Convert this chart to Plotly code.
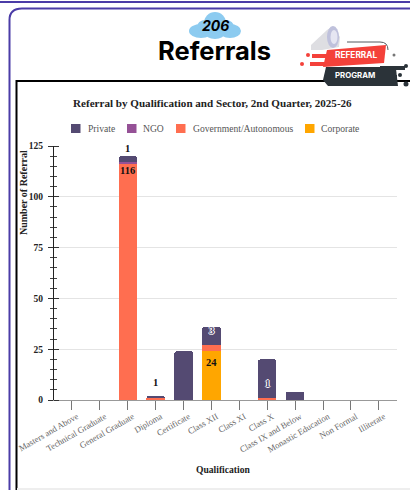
import plotly.graph_objects as go

categories = ["Masters and Above", "Technical Graduate", "General Graduate", "Diploma", "Certificate",
              "Class XII", "Class XI", "Class X", "Class IX and Below", "Monastic Education", "Non Formal", "Illiterate"]
corporate = [0, 0, 0, 0, 0, 24, 0, 0, 0, 0, 0, 0]
government = [0, 0, 116, 1, 0, 3, 0, 1, 0, 0, 0, 0]
ngo = [0, 0, 1, 0, 0, 0, 0, 0, 0, 0, 0, 0]
private = [0, 0, 3, 1, 24, 9, 0, 19, 4, 0, 0, 0]
y_ticks = [0, 25, 50, 75, 100, 125]

W, H = 410, 490
SERIF = "Liberation Serif"
def px(x): return x / W
def py(y): return 1 - y / H

fig = go.Figure()
for name, vals, col in [("Corporate", corporate, "#FFA600"), ("Government/Autonomous", government, "#FF6E50"),
                        ("NGO", ngo, "#955196"), ("Private", private, "#544A72")]:
    fig.add_bar(x=categories, y=vals, name=name, marker=dict(color=col, line=dict(width=0)), showlegend=False)
# carries the right-hand half of the crossing y ticks
fig.add_scatter(x=[categories[0]], y=[None], yaxis="y2", mode="markers", showlegend=False, hoverinfo="skip")

shapes = []
def rect(x0, y0, x1, y1, fill="rgba(0,0,0,0)", line=None, w=0, layer="above"):
    shapes.append(dict(type="rect", xref="paper", yref="paper", x0=px(x0), x1=px(x1), y0=py(y0), y1=py(y1),
                       fillcolor=fill, line=dict(color=line or fill, width=w), layer=layer))
def P(pts):
    return "M" + "L".join(f"{px(a)},{py(b)}" for a, b in pts) + "Z"
def shp(d_pts, fill, line=None, w=0, layer="above"):
    shapes.append(dict(type="path", xref="paper", yref="paper", path=P(d_pts), fillcolor=fill,
                       line=dict(color=line or fill, width=w), layer=layer))
def circ(cx, cy, rx, ry, fill):
    shapes.append(dict(type="circle", xref="paper", yref="paper", x0=px(cx-rx), x1=px(cx+rx), y0=py(cy-ry), y1=py(cy+ry),
                       fillcolor=fill, line=dict(width=0), layer="above"))

# page frame
rect(0, 1, 410, 3, "#4B3CA7")
shapes.append(dict(type="path", xref="paper", yref="paper", layer="above", fillcolor="rgba(0,0,0,0)",
    line=dict(color="#4B3CA7", width=2),
    path=f"M{px(9.5)},{py(490)}L{px(9.5)},{py(20)}Q{px(9.5)},{py(8.5)} {px(22)},{py(8.5)}L{px(410)},{py(8.5)}"))
# chart box
shp([(16.5, 490), (16.5, 81), (412, 81), (412, 490)], "rgba(0,0,0,0)", "#000000", 2)
rect(17, 488, 410, 490, "#EEEEEE")
# cloud
for c in [(215, 33, 10, 6), (201, 31, 12, 7), (230, 31, 11, 7), (215, 23, 11, 11), (205, 27, 8, 7), (226, 27, 8, 7)]:
    circ(*c, "#8CCBF0")
# megaphone
shp([(311, 45), (327, 30), (333, 26), (340, 37), (339, 47), (322, 50), (311, 50)], "#DEDEE2")
circ(333, 37, 6, 11, "#BFC1DC")
circ(334, 37, 3.5, 7, "#E6E6F2")
shapes.append(dict(type="path", xref="paper", yref="paper", layer="above", fillcolor="rgba(0,0,0,0)",
    line=dict(color="#555B60", width=1),
    path=f"M{px(347)},{py(42)}L{px(380)},{py(42)}Q{px(388)},{py(42)} {px(388)},{py(50)}"))
# ribbons
shp([(327, 50), (386, 45), (384, 63), (323, 67)], "#F4413A")
rect(312, 54, 330, 58, "#F4413A")
rect(310, 62, 330, 66, "#F4413A")
circ(308, 55, 2, 2, "#F4413A")
circ(302, 64, 2, 2, "#F4413A")
shp([(326, 67), (386, 67), (396, 69), (398, 86), (328, 86), (323, 80)], "#2B3339")
rect(380, 66, 405, 70, "#2B3339")
rect(385, 75, 397, 78, "#2B3339")
circ(406, 66, 2, 2, "#2B3339")
circ(400, 75, 2, 2, "#2B3339")
circ(406, 84, 2.5, 2.5, "#2B3339")
circ(394, 55, 1.5, 1.5, "#777777")
# legend
for x0, col in [(71, "#544A72"), (127, "#955196"), (176, "#FF6E50"), (305, "#FFA600")]:
    rect(x0, 124, x0 + 9.5, 133, col)

def txt(x, y, s, size, color="#222222", bold=False, font=SERIF, anchor="left", **k):
    fig.add_annotation(xref="paper", yref="paper", x=px(x), y=py(y), text=f"<b>{s}</b>" if bold else s, showarrow=False,
                       xanchor=anchor, yanchor="middle", font=dict(family=font, size=size, color=color),
                       borderpad=0, **k)
txt(215, 26, "<i>206</i>", 14, "#000000", True, "Inter", "center")
txt(214, 50, "Referrals", 25.5, "#000000", True, "Inter", "center")
txt(356, 55, "REFERRAL", 8.3, "#FFFFFF", True, "Inter", "center")
txt(355, 75.5, "PROGRAM", 7.8, "#FFFFFF", True, "Inter", "center")
txt(212, 103, "Referral by Qualification and Sector, 2nd Quarter, 2025-26", 11.1, "#222222", True, SERIF, "center")
for x, s in [(87, "Private"), (142, "NGO"), (192, "Government/Autonomous"), (320, "Corporate")]:
    txt(x, 128.5, s, 9.6, "#555555")
txt(223, 469, "Qualification", 9.6, "#222222", True, SERIF, "center")
txt(23, 193, "Number of Referral", 10, "#222222", True, SERIF, "center", textangle=-90)

def lab(cat, y, s, color="#111111", shadow=None):
    f = dict(family=SERIF, size=10.5, color=color)
    if shadow:
        f["shadow"] = shadow
    fig.add_annotation(x=cat, y=y, text=f"<b>{s}</b>", showarrow=False, yanchor="middle", font=f)
HALO = "1px 0 0 #fff, -1px 0 0 #fff, 0 1px 0 #fff, 0 -1px 0 #fff"
lab(categories[2], 124, ngo[2])
lab(categories[2], government[2] - 3, government[2])
lab(categories[3], 8.5, government[3])
lab(categories[5], 34, government[5], "#544A72", HALO)
lab(categories[5], corporate[5] - 5.5, corporate[5])
lab(categories[7], 8, government[7], "#544A72", HALO)

minor_l = dict(dtick=5, ticks="outside", ticklen=3, tickcolor="#444444", tickwidth=1)
fig.update_layout(
    template="none",
    width=W, height=H, margin=dict(l=0, r=0, t=0, b=0), paper_bgcolor="white", plot_bgcolor="white",
    barmode="stack", bargap=0.34, barcornerradius=2, shapes=shapes, font=dict(family=SERIF), showlegend=False,
    xaxis=dict(domain=[px(48), px(397)], range=[-0.86, 11.65], type="category", categoryorder="array",
               categoryarray=categories, tickangle=-30, ticks="outside", ticklen=9, tickcolor="#777777", tickwidth=1.3,
               tickfont=dict(family=SERIF, size=8.7, color="#666666"), showline=True, linecolor="#999999",
               linewidth=1.3, showgrid=False, automargin=False, zeroline=False, ticklabelshift=5, ticklabelstandoff=-2),
    yaxis=dict(domain=[py(400), py(146)], range=[0, 125], tickvals=y_ticks, ticks="outside", ticklen=4.5,
               tickcolor="#333333", tickwidth=1, tickfont=dict(family=SERIF, size=9.5, color="#222222", weight="bold"),
               gridcolor="#E4E4E4", gridwidth=1, zeroline=False, showline=True, linecolor="#222222", linewidth=1,
               anchor="free", position=px(52.5), automargin=False, minor=minor_l, ticklabelstandoff=3),
    yaxis2=dict(domain=[py(400), py(146)], range=[0, 125], overlaying="y", side="right", anchor="free", position=px(52.5),
                tickvals=y_ticks, ticks="outside", ticklen=5.5, tickcolor="#333333", tickwidth=1, showticklabels=False,
                showgrid=False, zeroline=False, showline=False, automargin=False, minor=minor_l),
)
fig.write_html("out.html", config=dict(displayModeBar=False), post_script="document.body.style.margin='0';document.body.style.overflow='hidden';")
